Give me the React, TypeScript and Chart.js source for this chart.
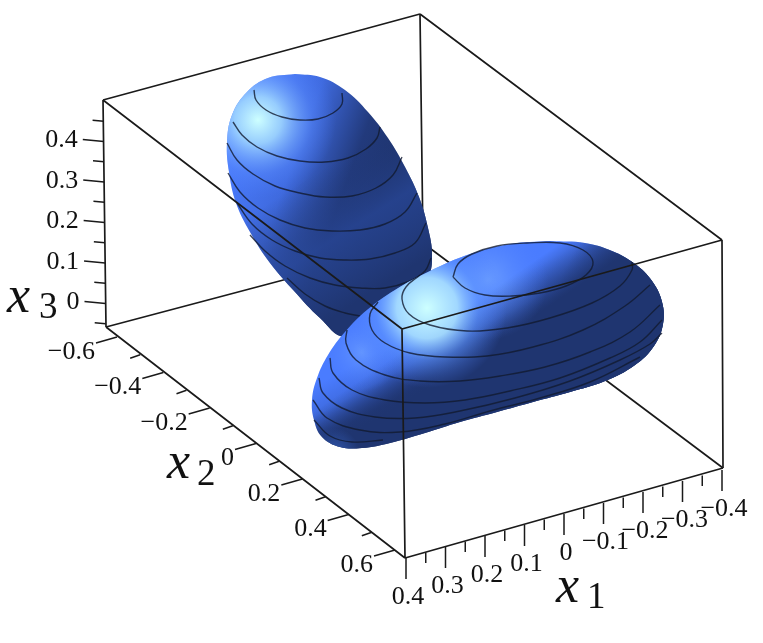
import React, { useEffect, useRef } from "react";
import { Chart, registerables } from "chart.js";

Chart.register(...registerables);

type P = [number, number];

// Box corners in picture units
const topLeft: P = [103, 100];
const topBack: P = [420, 14];
const topRight: P = [722, 240];
const topFront: P = [402, 329];
const botLeft: P = [106, 327];
const botBack: P = [423, 243];
const botRight: P = [723, 468];
const botFront: P = [405, 558];

const hiddenEdges: P[][] = [
  [topBack, botBack],
  [botLeft, botBack],
  [botBack, botRight],
];
const openEdges: P[][] = [
  [topLeft, topBack],
  [topBack, topRight],
  [topRight, botRight],
  [topLeft, botLeft],
  [botLeft, botFront],
  [botFront, botRight],
  [topRight, topFront],
  [topFront, topLeft],
  [topFront, botFront],
];

// Axis ticks
const x3Major = [0, 0.1, 0.2, 0.3, 0.4];
const x3Minor = [-0.05, 0.05, 0.15, 0.25, 0.35, 0.45];
const x3Labels = ["0", "0.1", "0.2", "0.3", "0.4"];
const x2Major = [-0.6, -0.4, -0.2, 0, 0.2, 0.4, 0.6];
const x2Minor = [-0.5, -0.3, -0.1, 0.1, 0.3, 0.5];
const x2Labels = ["−0.6", "−0.4", "−0.2", "0", "0.2", "0.4", "0.6"];
const x1Major = [0.4, 0.3, 0.2, 0.1, 0, -0.1, -0.2, -0.3, -0.4];
const x1Minor = [0.35, 0.25, 0.15, 0.05, -0.05, -0.15, -0.25, -0.35];
const x1Labels = ["0.4", "0.3", "0.2", "0.1", "0", "−0.1", "−0.2", "−0.3", "−0.4"];

// Surface outlines
const lobeBack: P[] = [
  [295, 74], [320, 77], [345, 90], [368, 112], [388, 138], [405, 167], [419, 197], [428, 228],
  [432, 255], [428, 278], [400, 322], [345, 337], [320, 318], [295, 292], [270, 263], [250, 232],
  [236, 203], [229, 172], [227, 143], [232, 115], [247, 92], [268, 78], [295, 74],
];
const lobeFront: P[] = [
  [550, 241], [585, 243], [612, 251], [635, 264], [652, 281], [662, 302], [663, 324], [654, 346],
  [635, 365], [605, 381], [570, 392], [533, 402], [497, 412], [460, 422], [425, 433], [390, 443],
  [362, 448], [340, 447], [322, 437], [314, 420], [312, 400], [317, 378], [328, 355], [345, 332],
  [367, 310], [395, 290], [430, 271], [470, 254], [510, 244], [550, 241],
];

// Level curves
const backLevels: P[][] = [
  [[254, 90], [256, 100], [266, 110], [282, 117], [300, 120], [318, 119], [333, 113], [342, 104], [342, 93]],
  [[233, 122], [242, 135], [257, 147], [277, 156], [300, 161], [325, 162], [348, 158], [366, 149], [377, 138], [380, 127]],
  [[227, 143], [237, 160], [253, 174], [275, 186], [300, 193], [325, 197], [352, 196], [376, 188], [393, 175], [402, 157]],
  [[228, 173], [240, 192], [258, 208], [280, 220], [305, 228], [332, 231], [360, 230], [385, 224], [405, 212], [417, 193]],
  [[237, 203], [252, 224], [272, 240], [295, 251], [320, 258], [345, 260], [370, 259], [395, 253], [415, 243], [426, 223]],
  [[250, 235], [265, 251], [285, 266], [310, 278], [335, 285], [360, 288], [385, 288], [410, 281], [425, 271], [431, 258]],
  [[287, 278], [305, 294], [325, 306], [345, 313], [360, 316]],
];
const frontLevels: P[][] = [
  [[453, 277], [458, 264], [472, 254], [497, 246], [527, 243], [560, 243], [583, 250], [593, 262], [586, 275], [566, 286], [540, 293], [512, 296], [485, 295], [465, 288], [453, 277]],
  [[420, 275], [406, 287], [402, 299], [409, 314], [430, 325], [467, 331], [507, 328], [550, 318], [592, 303], [620, 286], [632, 270], [632, 262]],
  [[378, 302], [370, 314], [372, 330], [385, 343], [410, 353], [445, 357], [487, 356], [533, 347], [583, 330], [625, 306], [650, 285]],
  [[347, 330], [346, 343], [356, 360], [385, 375], [420, 381], [460, 381], [500, 376], [545, 367], [590, 352], [630, 332], [660, 305]],
  [[330, 358], [333, 373], [352, 390], [385, 400], [425, 403], [465, 400], [510, 391], [560, 378], [610, 358], [640, 342], [662, 320]],
  [[319, 378], [323, 393], [342, 408], [375, 417], [415, 418], [460, 411], [515, 398], [570, 381], [620, 360], [650, 344], [662, 333]],
  [[313, 400], [327, 418], [360, 430], [400, 432], [445, 424], [490, 411], [540, 398], [590, 382], [640, 357]],
  [[314, 420], [330, 436], [352, 442], [383, 440]],
];

const toPts = (a: P[]) => a.map(([x, y]) => ({ x, y }));
const gap = { x: NaN, y: NaN };
const withGaps = (segs: P[][]) => segs.flatMap((s) => [...toPts(s), gap]);

// Straight-line placement of axis values
const place = (v: number, v0: number, p0: P, v1: number, p1: P): P => {
  const t = (v - v0) / (v1 - v0);
  return [p0[0] + (p1[0] - p0[0]) * t, p0[1] + (p1[1] - p0[1]) * t];
};
const onX3 = (v: number) => place(v, 0, [103 + 2.5, 303.5], 0.4, [103 + 0.8, 141.5]);
const onX2 = (v: number) => place(v, -0.6, [117, 337], 0.6, [395, 550]);
const onX1 = (v: number) => place(v, 0.4, [406, 558], -0.4, [722, 470]);

const ticks = (vals: number[], at: (v: number) => P, dx: number, dy: number): P[][] =>
  vals.map((v) => {
    const p = at(v);
    return [p, [p[0] + dx, p[1] + dy]];
  });

const labelAt = (labels: string[], vals: number[], at: (v: number) => P, dx: number, dy: number) =>
  labels.map((text, i) => {
    const p = at(vals[i]);
    return { text, x: p[0] + dx, y: p[1] + dy };
  });

const App = () => {
  const ref = useRef<HTMLCanvasElement>(null);
  useEffect(() => {
    const canvas = ref.current!;
    const c = canvas.getContext("2d")!;
    const lin = (x0: number, y0: number, x1: number, y1: number, stops: [number, string][]) => {
      const g = c.createLinearGradient(x0, y0, x1, y1);
      stops.forEach(([o, s]) => g.addColorStop(o, s));
      return g;
    };
    const rad = (x: number, y: number, r: number, stops: [number, string][]) => {
      const g = c.createRadialGradient(x, y, 0, x, y, r);
      stops.forEach(([o, s]) => g.addColorStop(o, s));
      return g;
    };
    const navy = "#1f3570";
    const shapes = (pts: P[], fills: any[]) =>
      fills.map((f) => ({
        data: toPts(pts),
        fill: "shape",
        backgroundColor: f,
        borderWidth: 0,
        borderColor: "transparent",
        tension: 0.4,
      }));
    const lines = (data: any[], color: string, width: number, tension = 0) => ({
      data,
      borderColor: color,
      borderWidth: width,
      backgroundColor: "transparent",
      fill: false,
      tension,
    });
    const ink = "#1a1a1a";
    const levelInk = "rgba(18,26,48,0.8)";

    const backShade = [
      lin(235, 125, 385, 180, [[0, "#4a7cff"], [0.42, "#3f6ade"], [0.78, "#223a7c"], [1, navy]]),
      lin(250, 215, 320, 325, [[0, "rgba(31,53,112,0)"], [0.5, "rgba(40,70,150,0.75)"], [1, navy]]),
      rad(258, 120, 78, [[0, "rgba(205,255,255,1)"], [0.3, "rgba(160,215,255,0.9)"], [0.7, "rgba(90,140,255,0.4)"], [1, "rgba(74,124,255,0)"]]),
    ];
    const frontShade = [
      lin(459, 308, 487, 360, [[0, "#4a7cff"], [0.45, "#3f6be0"], [0.85, "#223a7c"], [1, navy]]),
      lin(575, 250, 640, 285, [[0, "rgba(31,53,112,0)"], [1, navy]]),
      lin(392, 358, 418, 396, [[0, "rgba(31,53,112,0)"], [1, navy]]),
      rad(335, 452, 24, [[0, "rgba(53,96,190,0.75)"], [1, "rgba(53,96,190,0)"]]),
      rad(362, 352, 40, [[0, "rgba(110,160,255,0.7)"], [1, "rgba(74,124,255,0)"]]),
      rad(488, 280, 60, [[0, "rgba(130,180,255,0.6)"], [1, "rgba(74,124,255,0)"]]),
      rad(427, 308, 80, [[0, "rgba(205,255,255,1)"], [0.38, "rgba(170,225,255,0.9)"], [0.65, "rgba(95,150,255,0.5)"], [1, "rgba(74,124,255,0)"]]),
    ];

    const groups: any[] = [
      lines(withGaps(hiddenEdges), ink, 1.7),
      ...shapes(lobeBack, backShade),
      ...backLevels.map((l) => lines(toPts(l), levelInk, 1.4, 0.4)),
      ...shapes(lobeFront, frontShade),
      ...frontLevels.map((l) => lines(toPts(l), levelInk, 1.4, 0.4)),
      lines(withGaps(openEdges), ink, 1.7),
      lines(withGaps(ticks(x3Major, onX3, -21, -2)), ink, 1.5),
      lines(withGaps(ticks(x3Minor, onX3, -11, -1)), ink, 1.5),
      lines(withGaps(ticks(x2Major, onX2, -21, 6)), ink, 1.5),
      lines(withGaps(ticks(x2Minor, onX2, -10, 3.5)), ink, 1.5),
      lines(withGaps(ticks(x1Major, onX1, 0, 21)), ink, 1.5),
      lines(withGaps(ticks(x1Minor, onX1, 0, 10.5)), ink, 1.5),
    ];
    const datasets = groups.map((d, i) => ({ ...d, order: -i, pointRadius: 0, pointHoverRadius: 0 }));

    const tickText = {
      id: "tickText",
      afterDatasetsDraw(chart: any) {
        const { ctx, scales } = chart;
        const px = (v: number) => scales.x.getPixelForValue(v);
        const py = (v: number) => scales.y.getPixelForValue(v);
        ctx.save();
        ctx.fillStyle = "#111";
        ctx.textBaseline = "middle";
        ctx.font = "26px 'Liberation Serif'";
        ctx.textAlign = "right";
        labelAt(x3Labels, x3Major, onX3, -26, -1).forEach((l) => ctx.fillText(l.text, px(l.x), py(l.y)));
        labelAt(x2Labels, x2Major, onX2, -22, 15).forEach((l) => ctx.fillText(l.text, px(l.x), py(l.y)));
        ctx.textAlign = "center";
        labelAt(x1Labels, x1Major, onX1, 2, 39).forEach((l) => ctx.fillText(l.text, px(l.x), py(l.y)));
        ctx.textAlign = "left";
        ctx.textBaseline = "alphabetic";
        const names: [string, string, number, number, number, number][] = [
          ["x", "3", 7, 312, 39, 318],
          ["x", "2", 167, 478, 197, 485],
          ["x", "1", 556, 602, 587, 608],
        ];
        names.forEach(([a, b, ax, ay, bx, by]) => {
          ctx.font = "italic 52px 'Liberation Serif'";
          ctx.fillText(a, px(ax), py(ay));
          ctx.font = "37px 'Liberation Serif'";
          ctx.fillText(b, px(bx), py(by));
        });
        ctx.restore();
      },
    };

    const chart = new Chart(canvas, {
      type: "line",
      data: { datasets },
      plugins: [tickText],
      options: {
        animation: false,
        responsive: false,
        events: [],
        layout: { padding: 0 },
        plugins: { legend: { display: false }, tooltip: { enabled: false }, title: { display: false } },
        scales: {
          x: { type: "linear", min: 0, max: 763, display: false },
          y: { type: "linear", min: 0, max: 643, reverse: true, display: false },
        },
      },
    } as any);
    return () => chart.destroy();
  }, []);
  return (
    <canvas
      ref={ref}
      width={763}
      height={643}
      style={{ position: "fixed", left: 0, top: 0, display: "block", width: 763, height: 643 }}
    />
  );
};

export default App;
